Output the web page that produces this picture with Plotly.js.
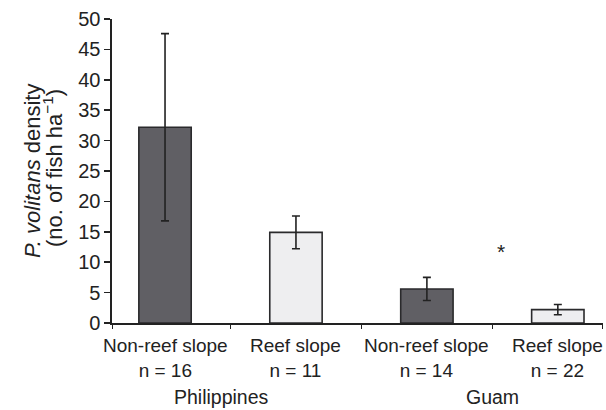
<!DOCTYPE html>
<html>
<head>
<meta charset="utf-8">
<script src="https://cdn.plot.ly/plotly-3.0.1.min.js"></script>
<style>html,body{margin:0;padding:0;background:#fff;}#chart{width:606px;height:410px;}</style>
</head>
<body>
<div id="chart"></div>
<script>
// Data
var categories = ['Non-reef slope', 'Reef slope', 'Non-reef slope', 'Reef slope'];
var sampleSizes = [16, 11, 14, 22];
var regions = ['Philippines', 'Guam'];
var regionCenters = [0.43, 2.5];
var density = [32.2, 14.9, 5.6, 2.2];
var densityErr = [15.4, 2.7, 1.9, 0.85];
var barColors = ['#605f64', '#eeeef0', '#605f64', '#eeeef0'];
var asterisk = {x: 2.565, y: 11.7};
var yTitleLines = ['<i>P. volitans</i> density', '(no. of fish ha<sup>\u22121</sup>)'];

var font = '"Liberation Sans", Arial, Helvetica, sans-serif';
var ink = '#222222';
var xs = categories.map(function (_, i) { return i; });

var trace = {
  type: 'bar',
  x: xs,
  y: density,
  width: 0.4,
  marker: {color: barColors, line: {color: '#2a2a2c', width: 1.6}},
  error_y: {type: 'data', array: densityErr, visible: true, color: ink, thickness: 1.6, width: 4},
  hoverinfo: 'skip'
};

var annotations = [];
categories.forEach(function (c, i) {
  annotations.push({
    x: i, xref: 'x', y: 0, yref: 'paper', yanchor: 'top', xanchor: 'center',
    yshift: -10, showarrow: false,
    text: c + '<br>n = ' + sampleSizes[i],
    font: {family: font, size: 19, color: ink}
  });
});
regions.forEach(function (r, i) {
  annotations.push({
    x: regionCenters[i], xref: 'x', y: 0, yref: 'paper', yanchor: 'top', xanchor: 'center',
    yshift: -61, showarrow: false, text: r,
    font: {family: font, size: 19.5, color: ink}
  });
});
annotations.push({
  x: asterisk.x, y: asterisk.y, xref: 'x', yref: 'y', showarrow: false, text: '*',
  font: {family: font, size: 21, color: ink}
});
annotations.push({
  x: 0, xref: 'paper', xanchor: 'center', xshift: -80,
  y: 0.5, yref: 'paper', yanchor: 'middle', textangle: -90, showarrow: false,
  text: yTitleLines[0],
  font: {family: font, size: 22, color: ink}
});
annotations.push({
  x: 0, xref: 'paper', xanchor: 'center', xshift: -59,
  y: 0.5, yref: 'paper', yanchor: 'middle', yshift: 3, textangle: -90, showarrow: false,
  text: yTitleLines[1],
  font: {family: font, size: 22, color: ink}
});

var layout = {
  width: 606, height: 410,
  margin: {l: 112, r: 3, t: 19, b: 87},
  paper_bgcolor: '#ffffff', plot_bgcolor: '#ffffff',
  showlegend: false,
  font: {family: font, size: 19, color: ink},
  xaxis: {
    range: [-0.405, 3.345], showgrid: false, zeroline: false,
    showline: true, linecolor: ink, linewidth: 1.6,
    tickmode: 'array', tickvals: [-0.4, 0.5, 1.5, 2.5, 3.34], showticklabels: false,
    ticks: 'outside', ticklen: 4, tickwidth: 1.6, tickcolor: ink, fixedrange: true
  },
  yaxis: {
    range: [0, 50], showgrid: false, zeroline: false,
    showline: true, linecolor: ink, linewidth: 1.6,
    tickmode: 'linear', tick0: 0, dtick: 5,
    ticks: 'outside', ticklen: 6, tickwidth: 1.6, tickcolor: ink,
    tickfont: {family: font, size: 20, color: ink}, fixedrange: true
  },
  annotations: annotations
};

Plotly.newPlot('chart', [trace], layout, {displayModeBar: false, staticPlot: true});
</script>
</body>
</html>
